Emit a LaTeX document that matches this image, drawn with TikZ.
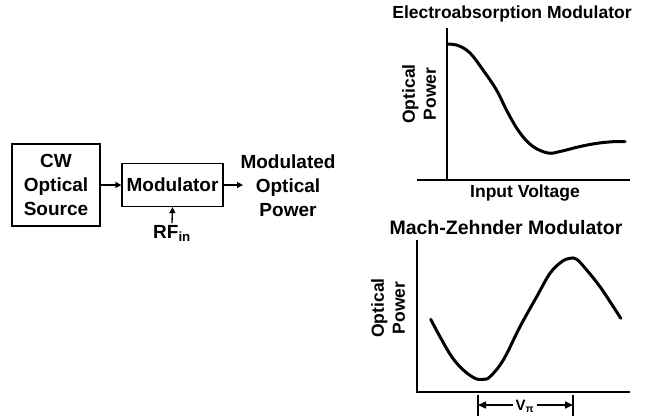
\documentclass[tikz,border=0pt]{standalone}
\usepackage{fontspec}
\setmainfont{Liberation Sans}
\usetikzlibrary{arrows.meta, positioning, calc}

\tikzset{
  blockbox/.style={draw, line width=1.3pt, align=center, inner sep=0pt},
  bigtxt/.style={font=\bfseries\fontsize{19}{24}\selectfont, align=center},
  axtxt/.style={font=\bfseries\fontsize{17.5}{21}\selectfont, align=center},
  flow/.style={line width=1.3pt, -{Triangle[length=6pt,width=6pt]}},
  dimarrow/.style={line width=1.5pt, -{Triangle[length=8pt,width=7pt]}},
  axisline/.style={line width=2pt},
  curveline/.style={line width=3pt, line cap=round, line join=round},
}

\begin{document}
\begin{tikzpicture}[x=1pt, y=-1pt]

  \useasboundingbox (0,0) rectangle (645,416);

  % block diagram
  \node[blockbox, bigtxt, minimum width=88pt, minimum height=82pt] (cw) at (56,185) {CW\\Optical\\Source};
  \node[blockbox, bigtxt, minimum width=101pt, minimum height=43pt] (mod) at (172.5,185) {Modulator};
  \node[bigtxt] (out) at (288,186) {Modulated\\Optical\\Power};
  \coordinate (outin) at (243,185);
  \node[bigtxt, anchor=north, inner sep=2pt] (rf) at (172,223) {RF\textsubscript{in}};
  \draw[flow] (cw.east) -- (mod.west);
  \draw[flow] (mod.east) -- (outin);
  \draw[flow] (rf.north) -- (mod.south);

  % electroabsorption curve
  \node[font=\bfseries\fontsize{17.5}{21}\selectfont] (eatitle) at (512,14) {Electroabsorption Modulator};
  \draw[axisline] (447,28) -- (447,180);
  \draw[axisline] (417,180) -- (630,180);
  \draw[curveline] plot[smooth, tension=0.6] coordinates
    {(447,44) (458,45.5) (470,53) (483,70) (496.5,90) (508,113) (520,133)
     (533,146.5) (548,153) (560,151.5) (580,146.5) (597,143.3) (613,141.7) (625,141.7)};
  \node[axtxt, rotate=90] (eay) at (419,94) {Optical\\Power};
  \node[axtxt] (eax) at (525,193) {Input Voltage};

  % mach-zehnder curve
  \node[font=\bfseries\fontsize{19.5}{23}\selectfont] (mztitle) at (506,228) {Mach-Zehnder Modulator};
  \draw[axisline] (417,240) -- (417,392) -- (630,392);
  \draw[curveline] plot[smooth, tension=0.6] coordinates
    {(430.7,319.3) (440,336.7) (451.7,356.7) (463.3,370) (475,378.3) (483.3,379.3)
     (490,376.7) (503.3,360) (520,326.7) (536.7,296.7) (550,273.3) (561.7,261.7)
     (570,258.3) (576.7,259.3) (586.7,270) (600,286.7) (613.3,306.7) (620.7,318.3)};
  \node[axtxt, rotate=90] (mzy) at (388,308) {Optical\\Power};

  % V_pi span
  \coordinate (vl) at (478,405);
  \coordinate (vr) at (573,405);
  \draw[axisline] (478,395) -- (478,416);
  \draw[axisline] (573,395) -- (573,416);
  \node[font=\bfseries\fontsize{15}{18}\selectfont, inner sep=3pt] (vpi) at (525,406) {V\textsubscript{π}};
  \draw[dimarrow] (vpi.west |- vl) -- (vl);
  \draw[dimarrow] (vpi.east |- vr) -- (vr);

\end{tikzpicture}
\end{document}
